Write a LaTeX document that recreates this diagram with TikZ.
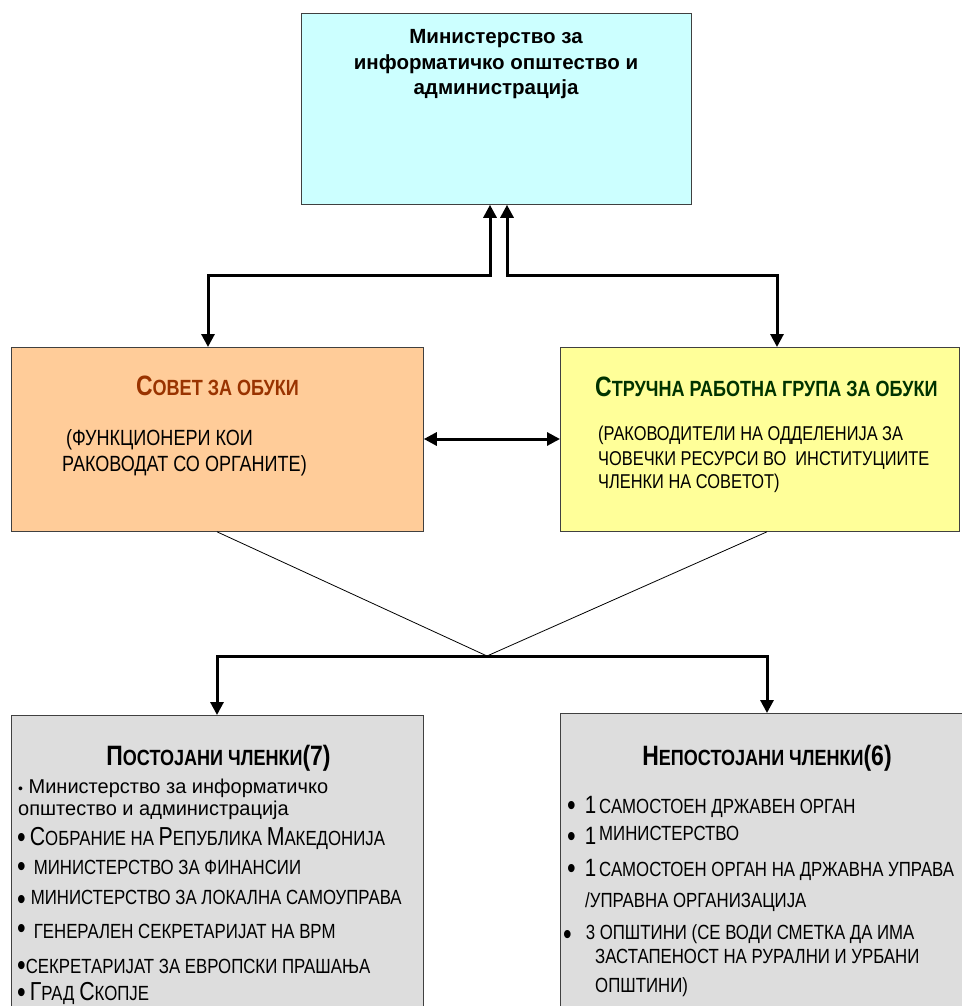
\documentclass[tikz,border=0pt]{standalone}
\usepackage{fontspec}
\setmainfont{Liberation Sans}
\newfontfamily\narrow{Liberation Sans}[FakeStretch=0.82]
\usetikzlibrary{arrows.meta,positioning}
\definecolor{cijan}{HTML}{CCFFFF}
\definecolor{portokal}{HTML}{FFCC99}
\definecolor{zolta}{HTML}{FFFF99}
\definecolor{siva}{HTML}{DDDDDD}
\definecolor{kafena}{HTML}{993300}
\definecolor{zelena}{HTML}{003300}
\newcommand{\golema}[2]{{\fontsize{#1}{#1}\selectfont #2}}
\newcommand{\tocka}[1][0pt]{\raisebox{#1}{\golema{30}{•}}}
\tikzset{
  kutija/.style={draw=black!75, line width=0.8pt, anchor=north west, inner sep=0pt},
  strelka/.style={line width=3pt, -{Triangle[length=13pt,width=13pt]}},
  dvojna/.style={line width=3pt, {Triangle[length=13pt,width=13pt]}-{Triangle[length=13pt,width=13pt]}},
  tenka/.style={line width=0.8pt},
  redica/.style={anchor=base west, inner sep=0pt, font=\narrow\fontsize{20.5}{24}\selectfont},
  naslov/.style={anchor=base, inner sep=0pt, font=\narrow\bfseries\fontsize{22}{26}\selectfont},
  glaven/.style={anchor=base, inner sep=0pt, font=\bfseries\fontsize{20.5}{25}\selectfont},
}
\begin{document}
\begin{tikzpicture}[x=1pt,y=-1pt]
  \useasboundingbox (0,0) rectangle (961,1006);
  % kutii
  \node[kutija, fill=cijan, minimum width=390pt, minimum height=191pt] (ministerstvo) at (301,13) {};
  \node[kutija, fill=portokal, minimum width=412pt, minimum height=184pt] (sovet) at (11,347) {};
  \node[kutija, fill=zolta, minimum width=399pt, minimum height=184pt] (grupa) at (560,347) {};
  \node[kutija, fill=siva, minimum width=412pt, minimum height=300pt] (postojani) at (11,715) {};
  \node[kutija, fill=siva, minimum width=410pt, minimum height=300pt] (nepostojani) at (560,713) {};
  \coordinate (spoj) at (487,656);

  % vrski
  \draw[dvojna] (490,0 |- ministerstvo.south) |- (208,275) -- (208,0 |- sovet.north);
  \draw[dvojna] (507,0 |- ministerstvo.south) |- (777,275) -- (777,0 |- grupa.north);
  \draw[dvojna] (sovet.east |- 0,439) -- (grupa.west |- 0,439);
  \draw[tenka] (217,0 |- sovet.south) -- (spoj) -- (767,0 |- grupa.south);
  \draw[strelka] (spoj) -| (217,0 |- postojani.north);
  \draw[strelka] (spoj) -| (767,0 |- nepostojani.north);

  % tekst gore
  \node[glaven] (m1) at (496,44) {Министерство за};
  \node[glaven] (m2) at (496,70) {информатичко општество и};
  \node[glaven] (m3) at (496,95) {администрација};

  \node[naslov, text=kafena] (s0) at (217.5,395) {\golema{28}{С}ОВЕТ ЗА ОБУКИ};
  \node[redica, font=\narrow\fontsize{22}{26}\selectfont] (s1) at (66,445) {(ФУНКЦИОНЕРИ КОИ};
  \node[redica, font=\narrow\fontsize{22}{26}\selectfont] (s2) at (62,471) {РАКОВОДАТ СО ОРГАНИТЕ)};

  \node[naslov, anchor=base west, text=zelena] (g0) at (595,396) {\golema{28}{С}ТРУЧНА РАБОТНА ГРУПА ЗА ОБУКИ};
  \node[redica, font=\narrow\fontsize{20}{24}\selectfont] (g1) at (598,440) {(РАКОВОДИТЕЛИ НА ОДДЕЛЕНИЈА ЗА};
  \node[redica, font=\narrow\fontsize{20}{24}\selectfont] (g2) at (598,465) {ЧОВЕЧКИ РЕСУРСИ ВО\ \ ИНСТИТУЦИИТЕ};
  \node[redica, font=\narrow\fontsize{20}{24}\selectfont] (g3) at (598,488) {ЧЛЕНКИ НА СОВЕТОТ)};

  % postojani
  \node[naslov] (p0) at (218.5,765) {\golema{28}{П}ОСТОЈАНИ ЧЛЕНКИ\golema{28}{(7)}};
  \node[redica, font=\fontsize{20}{24}\selectfont] (p1) at (18,793) {\golema{14}{•} Министерство за информатичко};
  \node[redica, font=\fontsize{20}{24}\selectfont] (p2) at (18,815) {општество и администрација};
  \node[redica] (p3) at (17,845) {\tocka[-2pt]\hspace{4pt}\golema{26}{С}ОБРАНИЕ НА \golema{26}{Р}ЕПУБЛИКА \golema{26}{М}АКЕДОНИЈА};
  \node[redica] (p4) at (17,874) {\tocka[-2pt]\hspace{8pt}МИНИСТЕРСТВО ЗА ФИНАНСИИ};
  \node[redica] (p5) at (17,904) {\tocka[-5.5pt]\hspace{5pt}МИНИСТЕРСТВО ЗА ЛОКАЛНА САМОУПРАВА};
  \node[redica] (p6) at (17,938) {\tocka\hspace{8pt}ГЕНЕРАЛЕН СЕКРЕТАРИЈАТ НА ВРМ};
  \node[redica] (p7) at (17,973) {\tocka[-2pt]СЕКРЕТАРИЈАТ ЗА ЕВРОПСКИ ПРАШАЊА};
  \node[redica] (p8) at (17,1000) {\tocka[-2pt]\hspace{4pt}\golema{26}{Г}РАД \golema{26}{С}КОПЈЕ};

  % nepostojani
  \node[naslov] (n0) at (767,765) {\golema{28}{Н}ЕПОСТОЈАНИ ЧЛЕНКИ\golema{28}{(6)}};
  \node[redica] (n1) at (567,813) {\tocka[-2pt]\hspace{9pt}\golema{25}{1}\hspace{3pt}САМОСТОЕН ДРЖАВЕН ОРГАН};
  \node[redica] (n2) at (567,844) {\tocka[-2pt]\hspace{9pt}\golema{25}{1}\hspace{3pt}\raisebox{4pt}{МИНИСТЕРСТВО}};
  \node[redica] (n3) at (567,876) {\tocka[-2pt]\hspace{9pt}\golema{25}{1}\hspace{3pt}САМОСТОЕН ОРГАН НА ДРЖАВНА УПРАВА};
  \node[redica] (n4) at (585,907) {/УПРАВНА ОРГАНИЗАЦИЈА};
  \node[redica] (n5) at (563,939) {\tocka[-5pt]\hspace{14pt}3 ОПШТИНИ (СЕ ВОДИ СМЕТКА ДА ИМА};
  \node[redica] (n6) at (595,963) {ЗАСТАПЕНОСТ НА РУРАЛНИ И УРБАНИ};
  \node[redica] (n7) at (595,992) {ОПШТИНИ)};
\end{tikzpicture}
\end{document}
